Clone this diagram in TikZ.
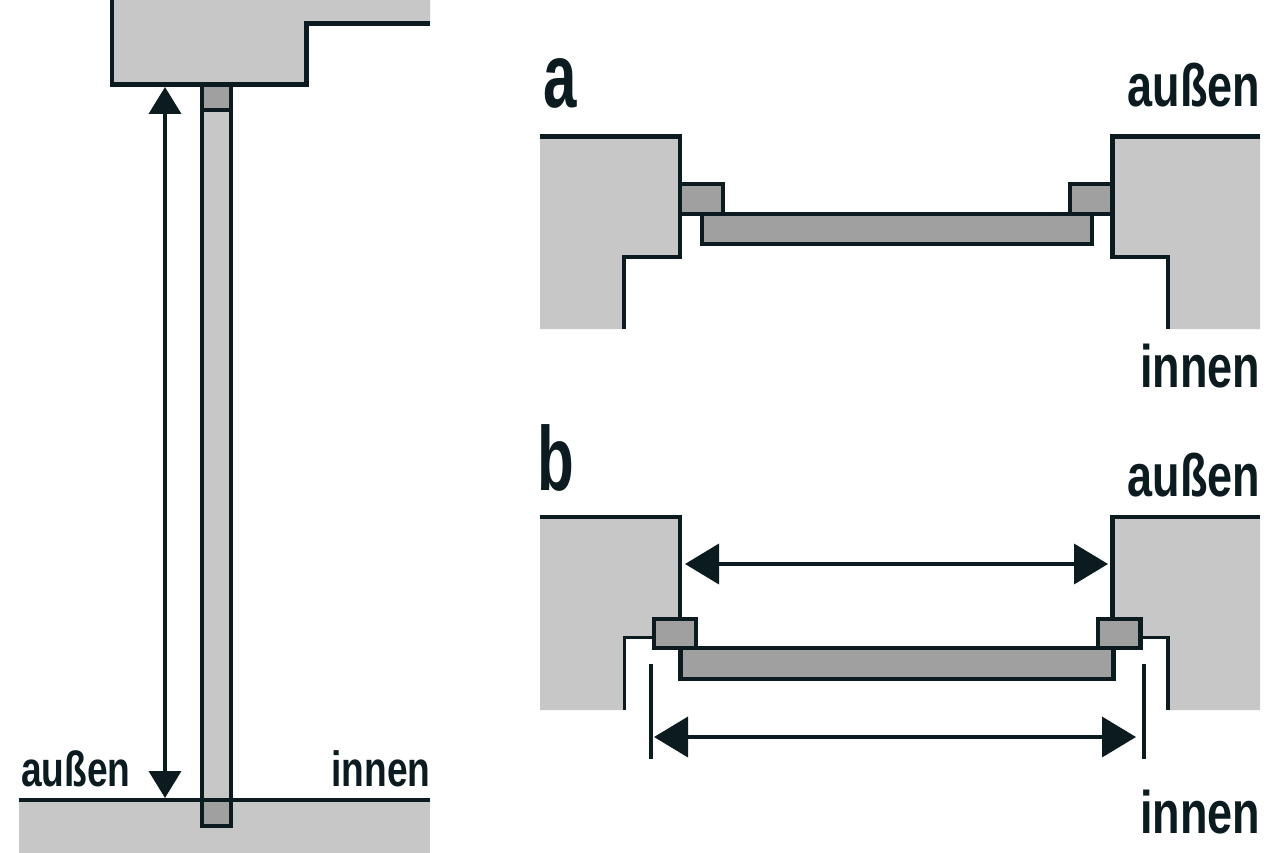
\documentclass[tikz,border=0pt]{standalone}
\usepackage{fontspec}
\usetikzlibrary{arrows.meta}
\newfontfamily\labelfont[FakeStretch=0.75]{Liberation Sans}
\newfontfamily\letterfont[FakeStretch=0.66]{Liberation Sans}
\definecolor{inkdark}{HTML}{0B1B20}
\definecolor{walllight}{HTML}{C6C7C6}
\definecolor{plankdark}{HTML}{9FA09F}
\begin{document}
\begin{tikzpicture}[x=1pt,y=-1pt,line width=4.3pt,draw=inkdark,
    wall fill/.style={fill=walllight,draw=none},
    wall line/.style={draw=inkdark},
    plank/.style={fill=plankdark,draw=inkdark},
    dim arrow/.style={draw=inkdark,line width=3.8pt,{Triangle[length=34pt,width=40pt]}-{Triangle[length=34pt,width=40pt]}},
    small label/.style={anchor=base,inner sep=0pt,text=inkdark,font=\labelfont\bfseries\fontsize{49.5}{49.5}\selectfont},
    big label/.style={anchor=base east,inner sep=0pt,text=inkdark,font=\labelfont\bfseries\fontsize{60}{60}\selectfont},
    letter/.style={anchor=base west,inner sep=0pt,text=inkdark,font=\letterfont\bfseries\fontsize{91}{91}\selectfont}]
    \useasboundingbox (0,0) rectangle (1280,853);

    % left picture
    \fill[wall fill] (112,0) -- (112,84.5) -- (306.5,84.5) -- (306.5,23.5) -- (430,23.5) -- (430,0) -- cycle;
    \draw[wall line] (112,0) -- (112,84.5) -- (306.5,84.5) -- (306.5,23.5) -- (430,23.5);
    \fill[wall fill] (19,800) rectangle (430,853);
    \draw[fill=walllight] (202,110) rectangle (231,800);
    \draw[plank] (202,84.5) rectangle (231,110);
    \draw[plank] (202,800) rectangle (231,826);
    \draw[wall line] (19,800) -- (430,800);

    \coordinate (h top) at (165,87);
    \coordinate (h bottom) at (165,798);
    \draw[dim arrow,{Triangle[length=27pt,width=32pt]}-{Triangle[length=27pt,width=32pt]}] (h top) -- (h bottom);
    \node[small label,anchor=base west] (outer left) at (19,786) {außen};
    \node[small label,anchor=base east] (inner left) at (432.5,786) {innen};

    % picture a
    \node[letter] (letter a) at (541,107.5) {a};
    \node[big label] (outer a) at (1262.5,107) {außen};
    \node[big label] (inner a) at (1262.5,387) {innen};
    \fill[wall fill] (540,136.5) -- (680,136.5) -- (680,257) -- (624,257) -- (624,329) -- (540,329) -- cycle;
    \draw[wall line] (540,136.5) -- (680,136.5) -- (680,257) -- (624,257) -- (624,329);
    \fill[wall fill] (1260,136.5) -- (1112.5,136.5) -- (1112.5,257) -- (1168,257) -- (1168,329) -- (1260,329) -- cycle;
    \draw[wall line] (1260,136.5) -- (1112.5,136.5) -- (1112.5,257) -- (1168,257) -- (1168,329);
    \draw[plank] (702,214) rectangle (1092,244);
    \draw[plank] (680,184) rectangle (723,214);
    \draw[plank] (1070,184) rectangle (1112.5,214);

    % picture b
    \node[letter] (letter b) at (535,490) {b};
    \node[big label] (outer b) at (1262.5,496) {außen};
    \node[big label] (inner b) at (1262.5,833) {innen};
    \fill[wall fill] (540,517) -- (680,517) -- (680,620) -- (654,620) -- (654,637.5) -- (624.5,637.5) -- (624.5,710) -- (540,710) -- cycle;
    \draw[wall line] (540,517) -- (680,517) -- (680,620);
    \draw[wall line,line width=3.6pt] (654,637.5) -- (624.5,637.5) -- (624.5,710);
    \fill[wall fill] (1260,517) -- (1112.5,517) -- (1112.5,620) -- (1140,620) -- (1140,637.5) -- (1168,637.5) -- (1168,710) -- (1260,710) -- cycle;
    \draw[wall line] (1260,517) -- (1112.5,517) -- (1112.5,620);
    \draw[wall line,line width=3.6pt] (1140,637.5) -- (1168,637.5) -- (1168,710);
    \draw[plank] (680.5,648) rectangle (1113.5,679);
    \draw[plank,line width=4.8pt] (654,619) rectangle (696,648);
    \draw[plank,line width=4.8pt] (1098,619) rectangle (1140.5,648);

    \coordinate (wall left) at (685,564);
    \coordinate (wall right) at (1108,564);
    \draw[dim arrow] (wall left) -- (wall right);
    \coordinate (tick left top) at (650.7,664);
    \coordinate (tick left bottom) at (650.7,759);
    \coordinate (tick right top) at (1144,664);
    \coordinate (tick right bottom) at (1144,759);
    \draw[wall line,line width=3.8pt] (tick left top) -- (tick left bottom);
    \draw[wall line,line width=3.8pt] (tick right top) -- (tick right bottom);
    \coordinate (reveal left) at (654,737);
    \coordinate (reveal right) at (1136,737);
    \draw[dim arrow] (reveal left) -- (reveal right);
\end{tikzpicture}
\end{document}
